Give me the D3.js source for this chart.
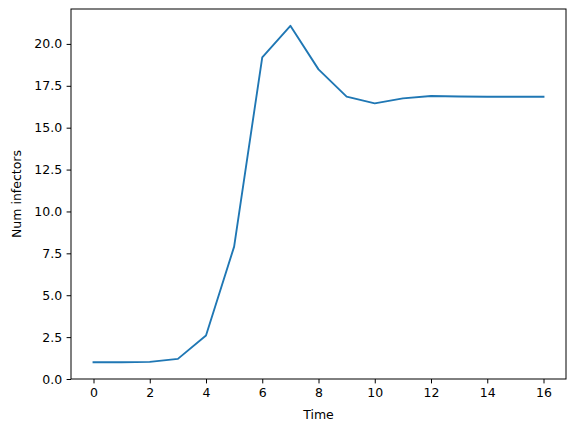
<!DOCTYPE html>
<html>
<head>
<meta charset="utf-8">
<script src="https://cdn.jsdelivr.net/npm/d3@7"></script>
<style>
  body { margin: 0; background: #fff; }
  text { font-family: "DejaVu Sans", sans-serif; fill: #000; }
</style>
</head>
<body>
<div id="chart"></div>
<script>
// data
const times = [0, 1, 2, 3, 4, 5, 6, 7, 8, 9, 10, 11, 12, 13, 14, 15, 16];
const infectors = [1.0, 1.0, 1.02, 1.2, 2.6, 7.9, 19.2, 21.08, 18.48, 16.85, 16.45, 16.75, 16.89, 16.86, 16.85, 16.85, 16.85];
const xTicks = [0, 2, 4, 6, 8, 10, 12, 14, 16];
const yTicks = [0, 2.5, 5, 7.5, 10, 12.5, 15, 17.5, 20];

const W = 576, H = 432;
const margin = { top: 9, right: 10, bottom: 53, left: 71 };
const width = W - margin.left - margin.right;
const height = H - margin.top - margin.bottom;

const svg = d3.select("#chart")
    .append("svg")
    .attr("width", W)
    .attr("height", H)
    .append("g")
    .attr("transform", `translate(${margin.left},${margin.top})`);

// matplotlib-style 5% padding
const xPad = (d3.max(times) - d3.min(times)) * 0.05;
const yMax = d3.max(infectors) + (d3.max(infectors) - d3.min(infectors)) * 0.05;

const xScale = d3.scaleLinear()
    .domain([d3.min(times) - xPad, d3.max(times) + xPad])
    .range([0, width]);

const yScale = d3.scaleLinear()
    .domain([0, yMax])
    .range([height, 0]);

const xAxis = svg.append("g")
    .attr("transform", `translate(0,${height})`)
    .call(d3.axisBottom(xScale).tickValues(xTicks).tickFormat(d3.format("d"))
        .tickSize(4.4).tickPadding(4.4));

const yAxis = svg.append("g")
    .call(d3.axisLeft(yScale).tickValues(yTicks).tickFormat(d3.format(".1f"))
        .tickSize(4.4).tickPadding(4.4));

[xAxis, yAxis].forEach(ax => {
    ax.select(".domain").remove();
    ax.selectAll("line").attr("stroke", "#000").attr("stroke-width", 1);
    ax.selectAll("text").attr("font-size", "12.5px").attr("font-family", "DejaVu Sans, sans-serif");
});

// frame
svg.append("rect")
    .attr("x", 0)
    .attr("y", 0)
    .attr("width", width)
    .attr("height", height)
    .attr("fill", "none")
    .attr("stroke", "#000")
    .attr("stroke-width", 1);

const line = d3.line()
    .x((d, i) => xScale(times[i]))
    .y(d => yScale(d));

svg.append("path")
    .datum(infectors)
    .attr("fill", "none")
    .attr("stroke", "#1f77b4")
    .attr("stroke-width", 1.875)
    .attr("stroke-linejoin", "round")
    .attr("stroke-linecap", "square")
    .attr("d", line);

svg.append("text")
    .attr("x", width / 2)
    .attr("y", height + 40)
    .attr("text-anchor", "middle")
    .attr("font-size", "12.5px")
    .text("Time");

svg.append("text")
    .attr("transform", `translate(${-margin.left + 21},${height / 2}) rotate(-90)`)
    .attr("text-anchor", "middle")
    .attr("font-size", "12.5px")
    .text("Num infectors");
</script>
</body>
</html>
